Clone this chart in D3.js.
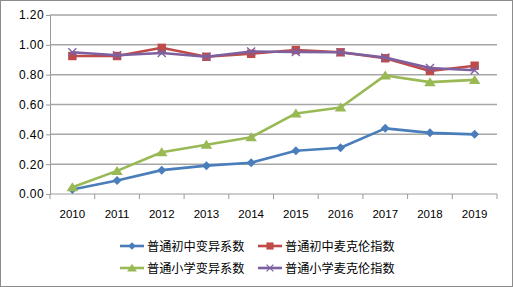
<!DOCTYPE html>
<html>
<head>
<meta charset="utf-8">
<script src="https://cdn.jsdelivr.net/npm/d3@7"></script>
<style>
  body { margin: 0; background: #fff; }
  svg text { font-family: "Liberation Sans", "DejaVu Sans", sans-serif; fill: #000; }
  .legend text { font-family: "Noto Sans CJK SC", sans-serif; }
</style>
</head>
<body>
<div id="chart"></div>
<script>
const years = ["2010", "2011", "2012", "2013", "2014", "2015", "2016", "2017", "2018", "2019"];
const yTicks = [0, 0.2, 0.4, 0.6, 0.8, 1.0, 1.2];

const juniorCV = [0.03, 0.09, 0.16, 0.19, 0.21, 0.29, 0.31, 0.44, 0.41, 0.40];
const juniorMcLoone = [0.925, 0.925, 0.98, 0.92, 0.94, 0.965, 0.95, 0.91, 0.825, 0.86];
const primaryCV = [0.045, 0.155, 0.28, 0.33, 0.38, 0.54, 0.58, 0.795, 0.75, 0.765];
const primaryMcLoone = [0.95, 0.93, 0.945, 0.92, 0.955, 0.952, 0.95, 0.915, 0.845, 0.83];

const series = [
	{ name: "普通初中变异系数", values: juniorCV, color: "#4a7ebb", marker: "diamond" },
	{ name: "普通初中麦克伦指数", values: juniorMcLoone, color: "#be4b48", marker: "square" },
	{ name: "普通小学变异系数", values: primaryCV, color: "#98b954", marker: "triangle" },
	{ name: "普通小学麦克伦指数", values: primaryMcLoone, color: "#7d60a0", marker: "cross" }
];

const W = 513, H = 287;
const margin = { top: 15, right: 16, bottom: 93, left: 50 };
const width = W - margin.left - margin.right;
const height = H - margin.top - margin.bottom;

const svg = d3.select("#chart").append("svg")
	.attr("width", W)
	.attr("height", H);

// outer frame
svg.append("rect")
	.attr("x", 0.5).attr("y", 0.5)
	.attr("width", W - 1).attr("height", H - 1)
	.attr("fill", "#fff")
	.attr("stroke", "#8c8c8c");

const g = svg.append("g").attr("transform", `translate(${margin.left},${margin.top})`);

const x = d3.scaleBand().domain(years).range([0, width]);
const y = d3.scaleLinear().domain([0, 1.2]).range([height, 0]);

// gridlines
g.selectAll(".grid").data(yTicks.filter(d => d > 0)).enter()
	.append("line")
	.attr("x1", 0).attr("x2", width)
	.attr("y1", d => y(d)).attr("y2", d => y(d))
	.attr("stroke", "#a6a6a6")
	.attr("stroke-width", 1.5);

// y axis
const yAxis = d3.axisLeft(y).tickValues(yTicks).tickSize(4).tickFormat(d3.format(".2f"));
g.append("g").call(yAxis)
	.call(s => s.select(".domain").attr("stroke", "#9a9a9a"))
	.call(s => s.selectAll(".tick line").attr("stroke", "#9a9a9a"))
	.call(s => s.selectAll(".tick text").attr("font-size", 12).attr("letter-spacing", 0.4).attr("x", -6));

// x axis with boundary ticks
const xg = g.append("g").attr("transform", `translate(0,${height})`);
xg.append("line").attr("x1", 0).attr("x2", width).attr("stroke", "#9a9a9a");
const bounds = years.map(d => x(d)).concat([width]);
xg.selectAll(".bt").data(bounds).enter()
	.append("line")
	.attr("x1", d => d).attr("x2", d => d)
	.attr("y1", 0).attr("y2", 5)
	.attr("stroke", "#9a9a9a");
xg.selectAll(".xl").data(years).enter()
	.append("text")
	.attr("x", d => x(d) + x.bandwidth() / 2)
	.attr("y", 24)
	.attr("text-anchor", "middle")
	.attr("font-size", 11.5)
	.text(d => d);

const cx = i => x(years[i]) + x.bandwidth() / 2;

function drawMarker(sel, type, color, size) {
	if (type === "diamond") {
		sel.append("path").attr("d", `M0,${-size}L${size},0L0,${size}L${-size},0Z`).attr("fill", color);
	} else if (type === "square") {
		sel.append("rect").attr("x", -size).attr("y", -size).attr("width", size * 2).attr("height", size * 2).attr("fill", color);
	} else if (type === "triangle") {
		sel.append("path").attr("d", `M0,${-size}L${size * 1.15},${size * 0.8}L${-size * 1.15},${size * 0.8}Z`).attr("fill", color);
	} else {
		sel.append("path").attr("d", `M${-size},${-size}L${size},${size}M${size},${-size}L${-size},${size}`)
			.attr("stroke", color).attr("stroke-width", 1.3).attr("fill", "none");
	}
}

const markerSize = { diamond: 4.5, square: 4.2, triangle: 5, cross: 4 };

const line = d3.line().x((d, i) => cx(i)).y(d => y(d));

series.forEach(s => {
	g.append("path")
		.datum(s.values)
		.attr("d", line)
		.attr("fill", "none")
		.attr("stroke", s.color)
		.attr("stroke-width", 2.6)
		.attr("stroke-linejoin", "round");
	s.values.forEach((v, i) => {
		const m = g.append("g").attr("transform", `translate(${cx(i)},${y(v)})`);
		drawMarker(m, s.marker, s.color, markerSize[s.marker]);
	});
});

// legend
const legend = svg.append("g").attr("class", "legend");
const legPos = [[120, 246], [258, 246], [120, 268], [258, 268]];
series.forEach((s, i) => {
	const [lx, ly] = legPos[i];
	const lg = legend.append("g").attr("transform", `translate(${lx},${ly})`);
	lg.append("line").attr("x1", 0).attr("x2", 24).attr("stroke", s.color).attr("stroke-width", 2.6);
	const m = lg.append("g").attr("transform", "translate(12,0)");
	drawMarker(m, s.marker, s.color, markerSize[s.marker] * 0.85);
	lg.append("text")
		.attr("x", 27)
		.attr("y", 4.5)
		.attr("font-size", 12.2)
		.text(s.name);
});
</script>
</body>
</html>
